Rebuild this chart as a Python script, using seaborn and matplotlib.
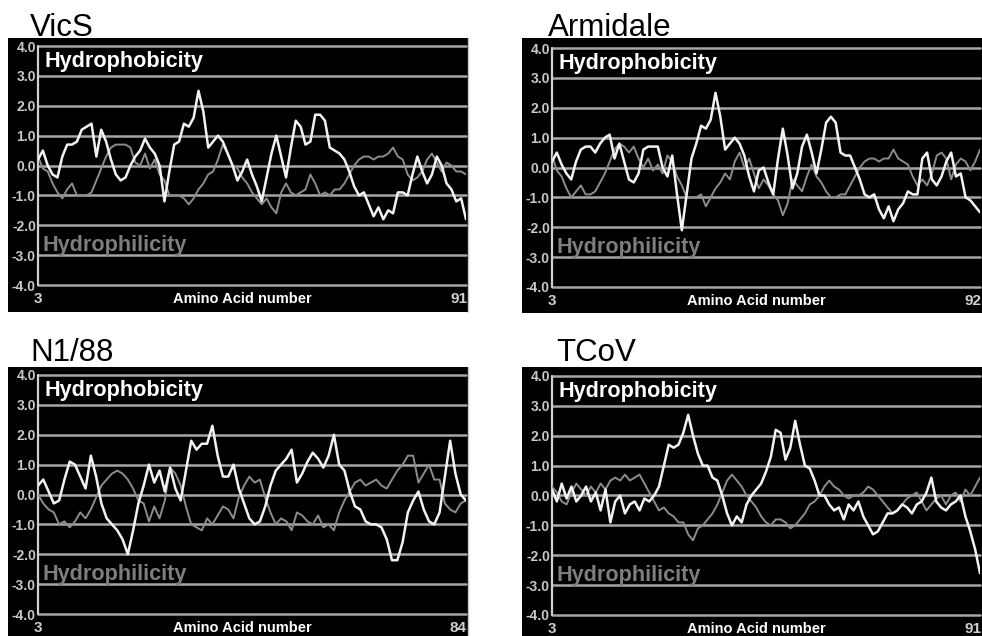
import numpy as np
import pandas as pd
import matplotlib
matplotlib.use("Agg")
import matplotlib.pyplot as plt
from matplotlib.patches import Rectangle
from matplotlib.transforms import blended_transform_factory
import seaborn as sns

sns.set_theme(style="white")
plt.rcParams['font.family'] = ['Liberation Sans', 'DejaVu Sans']

# ---------------- data ----------------
panel_names = ["VicS", "Armidale", "N1/88", "TCoV"]
first_residue = [3, 3, 3, 3]
last_residue = [91, 92, 84, 91]

vics_hydrophobicity = [
    0.2, 0.5, 0.0, -0.3, -0.4, 0.3, 0.7, 0.7, 0.8, 1.2,
    1.3, 1.4, 0.3, 1.2, 0.8, 0.2, -0.3, -0.5, -0.4, 0.0,
    0.3, 0.5, 0.9, 0.6, 0.4, 0.0, -1.2, -0.2, 0.7, 0.8,
    1.4, 1.3, 1.6, 2.5, 1.8, 0.6, 0.8, 1.0, 0.8, 0.4,
    0.0, -0.5, -0.2, 0.2, -0.3, -0.7, -1.2, -0.4, 0.4, 1.0,
    0.3, -0.4, 0.6, 1.5, 1.3, 0.7, 0.8, 1.7, 1.7, 1.5,
    0.6, 0.5, 0.4, 0.2, -0.2, -0.7, -1.0, -0.9, -1.3, -1.7,
    -1.4, -1.8, -1.5, -1.6, -0.9, -0.9, -1.0, -0.3, 0.3, -0.2,
    -0.6, -0.3, 0.3, 0.0, -0.6, -0.8, -1.2, -1.1, -1.8]
vics_hydrophilicity = [
    0.3, -0.1, -0.2, -0.6, -0.9, -1.1, -0.8, -0.6, -1.0, -1.0,
    -1.0, -0.9, -0.5, -0.1, 0.3, 0.6, 0.7, 0.7, 0.7, 0.6,
    0.1, 0.0, 0.4, -0.1, 0.2, -0.3, -0.5, -1.0, -1.0, -1.0,
    -1.1, -1.3, -1.1, -0.8, -0.6, -0.3, -0.2, 0.2, 0.7, 0.4,
    0.0, -0.1, -0.4, -0.6, -0.9, -1.1, -1.3, -1.1, -1.4, -1.6,
    -0.9, -0.6, -0.9, -1.0, -0.9, -0.8, -0.3, -0.6, -1.0, -0.9,
    -1.0, -0.8, -0.8, -0.6, -0.3, 0.0, 0.2, 0.3, 0.3, 0.2,
    0.3, 0.3, 0.4, 0.6, 0.3, 0.2, -0.3, -0.5, -0.4, -0.2,
    0.2, 0.4, 0.1, -0.2, 0.1, 0.0, -0.2, -0.2, -0.3]

armidale_hydrophobicity = [
    0.2, 0.5, 0.1, -0.2, -0.4, 0.2, 0.6, 0.7, 0.7, 0.5,
    0.8, 1.0, 1.1, 0.3, 0.8, 0.2, -0.4, -0.5, -0.2, 0.6,
    0.7, 0.7, 0.7, 0.0, -0.3, 0.4, -0.9, -2.1, -0.9, 0.3,
    0.8, 1.4, 1.3, 1.6, 2.5, 1.7, 0.6, 0.8, 1.0, 0.8,
    0.4, -0.3, -0.8, -0.1, 0.0, -0.5, -0.9, 0.3, 1.3, 0.4,
    -0.7, -0.2, 0.7, 1.1, 0.5, -0.2, 0.6, 1.5, 1.7, 1.5,
    0.5, 0.4, 0.4, 0.0, -0.4, -0.9, -1.0, -0.9, -1.4, -1.7,
    -1.3, -1.8, -1.4, -1.2, -0.8, -0.9, -0.9, 0.3, 0.5, -0.4,
    -0.6, -0.3, 0.2, 0.5, -0.3, -0.2, -1.0, -1.1, -1.3, -1.5]
armidale_hydrophilicity = [
    0.4, -0.1, -0.3, -0.7, -1.0, -0.8, -0.6, -0.9, -0.9, -0.8,
    -0.5, -0.2, 0.2, 0.6, 0.8, 0.7, 0.5, 0.7, 0.3, 0.0,
    0.3, -0.1, 0.1, -0.2, 0.4, 0.2, -0.3, -0.6, -1.0, -1.0,
    -1.0, -0.9, -1.3, -1.0, -0.7, -0.5, -0.2, -0.4, 0.2, 0.5,
    0.0, 0.3, -0.2, -0.7, -0.4, -0.6, -0.9, -1.1, -1.6, -1.2,
    -0.4, -0.6, -0.8, -0.3, 0.1, -0.3, -0.5, -0.8, -1.0, -1.0,
    -0.9, -0.9, -0.6, -0.3, 0.0, 0.2, 0.3, 0.3, 0.2, 0.3,
    0.3, 0.6, 0.3, 0.2, 0.1, -0.3, -0.6, -0.4, -0.6, -0.2,
    0.4, 0.5, 0.3, -0.4, 0.1, 0.3, 0.2, -0.1, 0.2, 0.6]

n188_hydrophobicity = [
    0.3, 0.5, 0.1, -0.3, -0.2, 0.5, 1.1, 1.0, 0.6, 0.2,
    1.3, 0.6, -0.3, -0.8, -1.0, -1.2, -1.5, -2.0, -1.2, -0.3,
    0.3, 1.0, 0.4, 0.8, 0.1, 0.9, 0.2, -0.2, 0.8, 1.8,
    1.5, 1.7, 1.7, 2.3, 1.3, 0.6, 0.6, 1.0, 0.2, -0.3,
    -0.8, -1.0, -0.9, -0.4, 0.3, 0.8, 1.0, 1.2, 1.5, 0.4,
    0.7, 1.1, 1.4, 1.2, 0.9, 1.3, 2.0, 1.0, 0.8, 0.1,
    -0.4, -0.5, -0.9, -1.0, -1.0, -1.1, -1.5, -2.2, -2.2, -1.6,
    -0.6, -0.2, 0.1, -0.5, -0.9, -1.0, -0.6, 0.6, 1.8, 0.7,
    0.0, -0.2]
n188_hydrophilicity = [
    0.0, -0.3, -0.5, -0.6, -1.0, -0.9, -1.1, -0.9, -0.6, -0.8,
    -0.5, -0.1, 0.3, 0.5, 0.7, 0.8, 0.7, 0.5, 0.2, -0.2,
    -0.3, -0.9, -0.4, -0.8, -0.2, 0.9, 0.7, 0.3, -0.4, -1.0,
    -1.1, -1.2, -0.8, -1.0, -0.7, -0.4, -0.5, -0.8, -0.1, 0.3,
    0.6, 0.4, 0.5, -0.1, -0.6, -1.0, -0.8, -0.9, -1.2, -0.6,
    -0.7, -0.9, -1.0, -0.7, -1.1, -1.0, -1.2, -0.6, -0.2, 0.1,
    0.4, 0.5, 0.3, 0.4, 0.5, 0.3, 0.2, 0.5, 0.8, 1.0,
    1.3, 1.3, 0.4, 0.7, 1.0, 0.5, 0.5, -0.3, -0.5, -0.6,
    -0.3, -0.2]

tcov_hydrophobicity = [
    0.2, -0.2, 0.4, -0.1, 0.3, -0.2, 0.0, 0.3, -0.2, 0.1,
    -0.5, 0.2, -0.9, -0.2, 0.0, -0.6, -0.3, -0.2, -0.5, -0.1,
    -0.2, 0.0, 0.3, 1.0, 1.7, 1.6, 1.7, 2.1, 2.7, 2.0,
    1.4, 1.0, 1.0, 0.6, 0.5, 0.0, -0.6, -1.0, -0.7, -0.9,
    -0.3, 0.0, 0.2, 0.4, 0.8, 1.3, 2.2, 2.1, 1.2, 1.6,
    2.5, 1.7, 1.0, 0.9, 0.5, 0.0, 0.0, -0.3, -0.5, -0.4,
    -0.8, -0.3, -0.5, -0.2, -0.7, -1.0, -1.3, -1.2, -0.9, -0.6,
    -0.6, -0.5, -0.3, -0.4, -0.6, -0.3, -0.2, 0.1, 0.6, -0.2,
    -0.4, -0.5, -0.3, -0.2, 0.0, -0.7, -1.2, -1.8, -2.6]
tcov_hydrophilicity = [
    0.3, 0.1, -0.2, -0.3, 0.1, 0.4, 0.2, 0.0, 0.3, 0.1,
    0.4, 0.2, 0.5, 0.6, 0.5, 0.7, 0.5, 0.6, 0.7, 0.4,
    0.1, -0.2, -0.5, -0.4, -0.6, -0.7, -0.9, -0.9, -1.3, -1.5,
    -1.1, -1.0, -0.8, -0.6, -0.3, 0.1, 0.5, 0.7, 0.5, 0.3,
    0.0, -0.2, -0.4, -0.7, -0.9, -1.0, -0.8, -0.8, -0.9, -1.1,
    -1.0, -0.8, -0.6, -0.3, -0.2, 0.0, 0.3, 0.5, 0.3, 0.2,
    0.0, -0.1, 0.0, 0.0, 0.1, 0.3, 0.2, 0.0, -0.2, -0.4,
    -0.6, -0.5, -0.3, -0.1, 0.0, 0.1, -0.2, -0.5, -0.3, -0.1,
    0.0, -0.3, 0.0, 0.1, -0.2, 0.2, 0.0, 0.3, 0.6]

hydrophobicity_series = [vics_hydrophobicity, armidale_hydrophobicity,
                         n188_hydrophobicity, tcov_hydrophobicity]
hydrophilicity_series = [vics_hydrophilicity, armidale_hydrophilicity,
                         n188_hydrophilicity, tcov_hydrophilicity]

y_ticks = [4.0, 3.0, 2.0, 1.0, 0.0, -1.0, -2.0, -3.0, -4.0]
y_tick_labels = ["4.0", "3.0", "2.0", "1.0", "0.0", "-1.0", "-2.0", "-3.0", "-4.0"]
x_axis_label = "Amino Acid number"
upper_label = "Hydrophobicity"
lower_label = "Hydrophilicity"

# ---------------- layout (pixels) ----------------
W, H = 982, 636
fig = plt.figure(figsize=(W / 100, H / 100), dpi=100)
fig.patch.set_facecolor("white")

# box_left, box_top, box_right, box_bottom, inner_left, inner_right, y(4.0), y(-4.0), title_x, title_baseline
layout = [
    (8, 38, 468, 312, 38, 466, 46, 285, 30, 36),
    (522, 38, 982, 313, 552, 980, 48, 287, 548, 36),
    (8, 367, 468, 636, 38, 466, 375, 614, 30, 361),
    (522, 367, 982, 636, 552, 980, 376, 615, 556, 361),
]

white_line = "#f2f2f2"
gray_line = "#8c8c8c"
grid_col = "#a6a6a6"

for i, name in enumerate(panel_names):
    bl, bt, br, bb, il, ir, yt, yb, tx, tb = layout[i]
    # black background box
    fig.add_artist(Rectangle((bl / W, 1 - bb / H), (br - bl) / W, (bb - bt) / H,
                             transform=fig.transFigure, facecolor="black",
                             edgecolor="none", zorder=-5))
    if br < W - 2:
        fig.add_artist(plt.Line2D([br / W, br / W], [1 - bb / H, 1 - bt / H],
                                  transform=fig.transFigure, color="#c8c8c8",
                                  lw=1.0, zorder=-4))

    ax = fig.add_axes([il / W, 1 - yb / H, (ir - il) / W, (yb - yt) / H])
    ax.set_facecolor("black")
    for s in ax.spines.values():
        s.set_visible(False)

    residues = np.arange(first_residue[i], last_residue[i] + 1)
    df = pd.DataFrame({"residue": residues,
                       "hydrophobicity": hydrophobicity_series[i],
                       "hydrophilicity": hydrophilicity_series[i]})

    for v in y_ticks:
        ax.axhline(v, color=grid_col, lw=1.8, zorder=1, clip_on=False)
    ax.axvline(first_residue[i], color="#d0d0d0", lw=1.6, zorder=1, clip_on=False)

    sns.lineplot(data=df, x="residue", y="hydrophilicity", ax=ax, color=gray_line,
                 linewidth=1.4, legend=False, zorder=3)
    sns.lineplot(data=df, x="residue", y="hydrophobicity", ax=ax, color=white_line,
                 linewidth=1.8, legend=False, zorder=4)

    ax.set_xlim(first_residue[i], last_residue[i])
    ax.set_ylim(-4, 4)
    ax.set_xticks([])
    ax.set_yticks(y_ticks)
    ax.set_yticklabels(y_tick_labels, fontsize=10, fontweight="bold", color="#c8c8c8")
    ax.tick_params(axis="y", length=0, pad=1.5)
    ax.set_xlabel("")
    ax.set_ylabel("")

    unit = (yb - yt) / 8.0
    bt_tr = blended_transform_factory(ax.transAxes, ax.transData)
    ax.text(7 / (ir - il), 4 - (67 - 46) / unit, upper_label, transform=bt_tr,
            color="white", fontsize=15.6, fontweight="bold", va="baseline", ha="left",
            zorder=6)
    ax.text(5 / (ir - il), -2.85, lower_label, transform=bt_tr,
            color="#7e7e7e", fontsize=15.6, fontweight="bold", va="baseline", ha="left",
            zorder=6)

    y_lab = -4 - 14 / unit
    ax.text(first_residue[i], y_lab, str(first_residue[i]), color="#d0d0d0",
            fontsize=11, fontweight="bold", ha="center", va="center", clip_on=False)
    ax.text(0.477, y_lab, x_axis_label, transform=bt_tr, color="white",
            fontsize=10.5, fontweight="bold", ha="center", va="center", clip_on=False)
    ax.text(last_residue[i] - 1.5, y_lab, str(last_residue[i]), color="#d0d0d0",
            fontsize=11, fontweight="bold", ha="center", va="center", clip_on=False)

    fig.text(tx / W, 1 - tb / H, name, fontsize=22.5, color="black",
             ha="left", va="baseline")

fig.savefig("out.png", dpi=100, facecolor="white")
